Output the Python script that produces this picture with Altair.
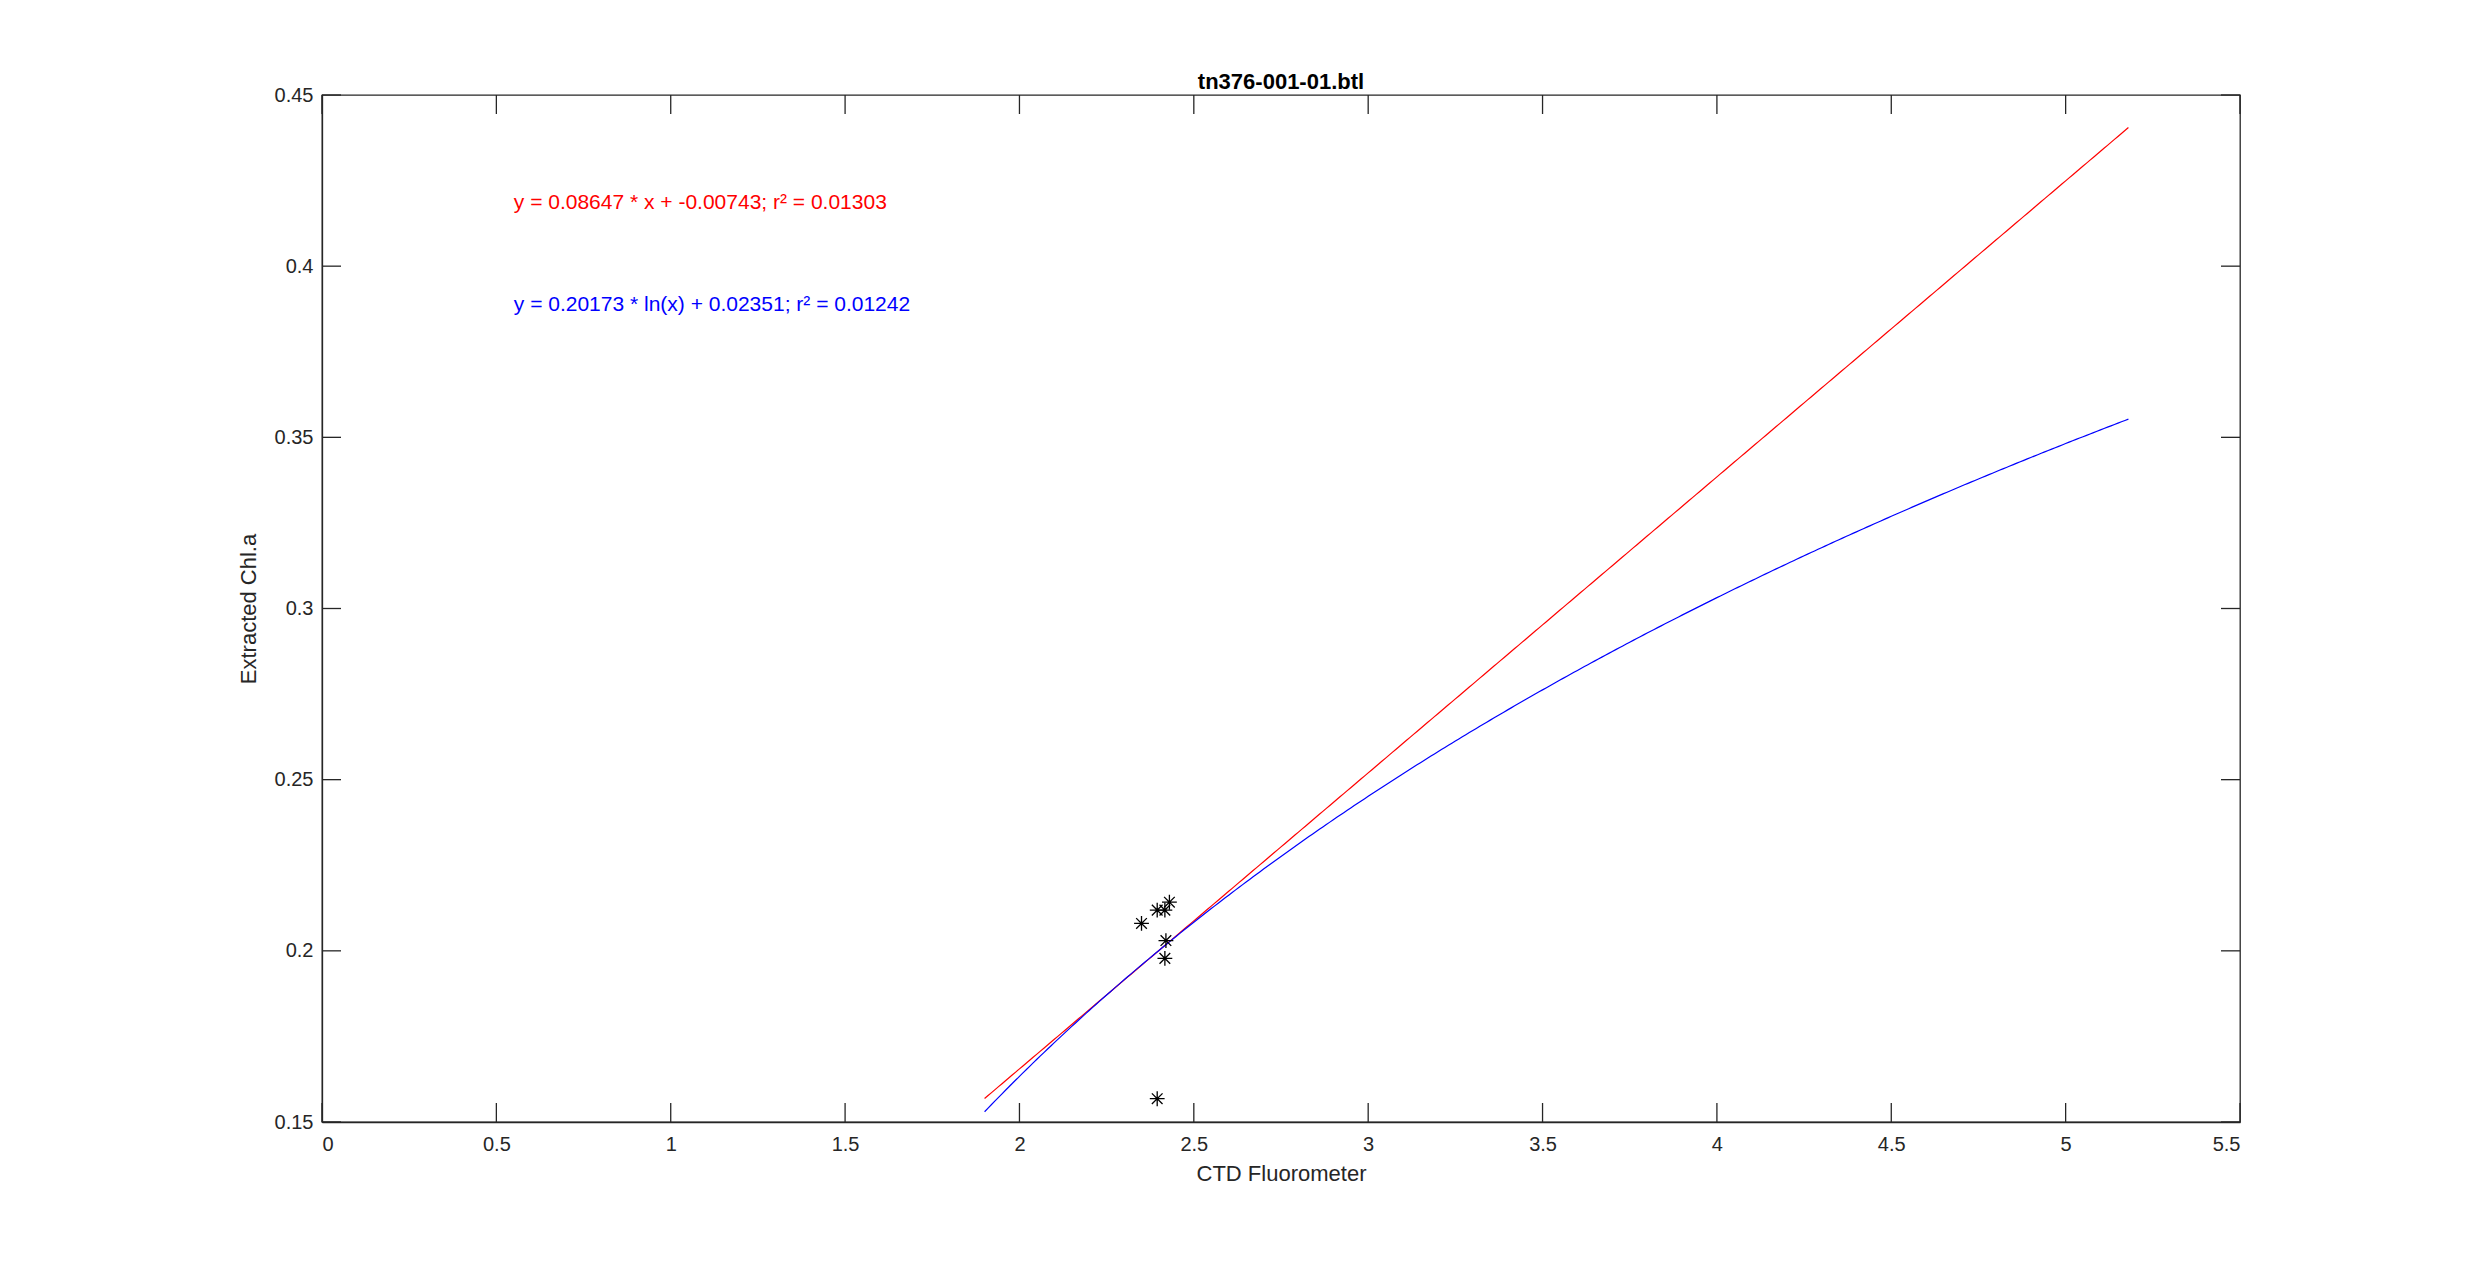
import altair as alt
import pandas as pd

# Bottle samples
ctd_fluor = [2.350, 2.395, 2.417, 2.430, 2.420, 2.417, 2.395]
chl_a = [0.2080, 0.2119, 0.2119, 0.2142, 0.2030, 0.1978, 0.1568]

# Fit coefficients (from the chart annotations) and x-range of the fit curves
lin_slope, lin_icpt = 0.08647, -0.00743
log_slope, log_icpt = 0.20173, 0.02351
fit_x_min, fit_x_max = 1.90, 5.18

# Annotation texts
ann_x = [0.55, 0.55]
ann_y = [0.42, 0.39]
ann_text = [
    "y = 0.08647 * x + -0.00743; r\u00b2 = 0.01303",
    "y = 0.20173 * ln(x) + 0.02351; r\u00b2 = 0.01242",
]
ann_color = ["#ff0000", "#0000ff"]

x_ticks = [0, 0.5, 1, 1.5, 2, 2.5, 3, 3.5, 4, 4.5, 5, 5.5]
y_ticks = [0.15, 0.2, 0.25, 0.3, 0.35, 0.4, 0.45]

W, H = 1918, 1027
TL = 19
FONT = "Liberation Sans"
AX = "#262626"

xs = alt.Scale(domain=[0, 5.5], nice=False, zero=False)
ys = alt.Scale(domain=[0.15, 0.45], nice=False, zero=False)

pts = pd.DataFrame({"x": ctd_fluor, "y": chl_a})
ann = pd.DataFrame({"x": ann_x, "y": ann_y, "t": ann_text, "c": ann_color})
xt = pd.DataFrame({"v": x_ticks})
yt = pd.DataFrame({"v": y_ticks})

xaxis = alt.Axis(values=x_ticks, format=".1~f", title="CTD Fluorometer", grid=False,
                 tickSize=0, labelPadding=12, titlePadding=9,
                 labelFont=FONT, labelFontSize=20, labelColor=AX,
                 titleFont=FONT, titleFontSize=22, titleFontWeight="normal", titleColor=AX,
                 domainColor=AX, domainWidth=1.3)
yaxis = alt.Axis(values=y_ticks, format=".2~f", title="Extracted Chl.a", grid=False,
                 tickSize=0, labelPadding=9, titlePadding=14,
                 labelFont=FONT, labelFontSize=20, labelColor=AX,
                 titleFont=FONT, titleFontSize=22, titleFontWeight="normal", titleColor=AX,
                 domainColor=AX, domainWidth=1.3)

base_seq = alt.sequence(fit_x_min, fit_x_max + 0.0001, 0.01, as_="x")

lin = alt.Chart(base_seq).transform_calculate(
    y=f"{lin_slope} * datum.x + {lin_icpt}"
).mark_line(color="#ff0000", strokeWidth=1.2).encode(
    x=alt.X("x:Q", scale=xs, axis=xaxis),
    y=alt.Y("y:Q", scale=ys, axis=yaxis),
)

logc = alt.Chart(base_seq).transform_calculate(
    y=f"{log_slope} * log(datum.x) + {log_icpt}"
).mark_line(color="#0000ff", strokeWidth=1.2).encode(
    x=alt.X("x:Q", scale=xs),
    y=alt.Y("y:Q", scale=ys),
)

star = "M-1,0L1,0M0,-1L0,1M-0.72,-0.72L0.72,0.72M-0.72,0.72L0.72,-0.72"
points = alt.Chart(pts).mark_point(shape=star, filled=False, color="black",
                                   strokeWidth=1.3, size=220, opacity=1).encode(
    x=alt.X("x:Q", scale=xs),
    y=alt.Y("y:Q", scale=ys),
)

texts = alt.Chart(ann).mark_text(align="left", baseline="middle", font=FONT,
                                 fontSize=21, dy=5).encode(
    x=alt.X("x:Q", scale=xs),
    y=alt.Y("y:Q", scale=ys),
    text="t:N",
    color=alt.Color("c:N", scale=None),
)

tick_style = dict(color=AX, strokeWidth=1.3)
xb = alt.Chart(xt).mark_rule(**tick_style).encode(
    x=alt.X("v:Q", scale=xs), y=alt.value(H), y2=alt.value(H - TL))
xtp = alt.Chart(xt).mark_rule(**tick_style).encode(
    x=alt.X("v:Q", scale=xs), y=alt.value(0), y2=alt.value(TL))
yl = alt.Chart(yt).mark_rule(**tick_style).encode(
    y=alt.Y("v:Q", scale=ys), x=alt.value(0), x2=alt.value(TL))
yr = alt.Chart(yt).mark_rule(**tick_style).encode(
    y=alt.Y("v:Q", scale=ys), x=alt.value(W), x2=alt.value(W - TL))

chart = alt.layer(lin, logc, points, texts, xb, xtp, yl, yr).properties(
    width=W, height=H,
    title=alt.TitleParams("tn376-001-01.btl", font=FONT, fontSize=22, fontWeight="bold",
                          color="black", offset=10, anchor="middle", baseline="alphabetic",
                          dy=36),
    autosize="none",
    padding={"left": 314, "top": 87, "right": 200, "bottom": 120},
    background="white",
).configure_view(
    stroke=AX, strokeWidth=1.3
)

chart.save("out.html", embed_options={"renderer": "svg", "actions": False})
